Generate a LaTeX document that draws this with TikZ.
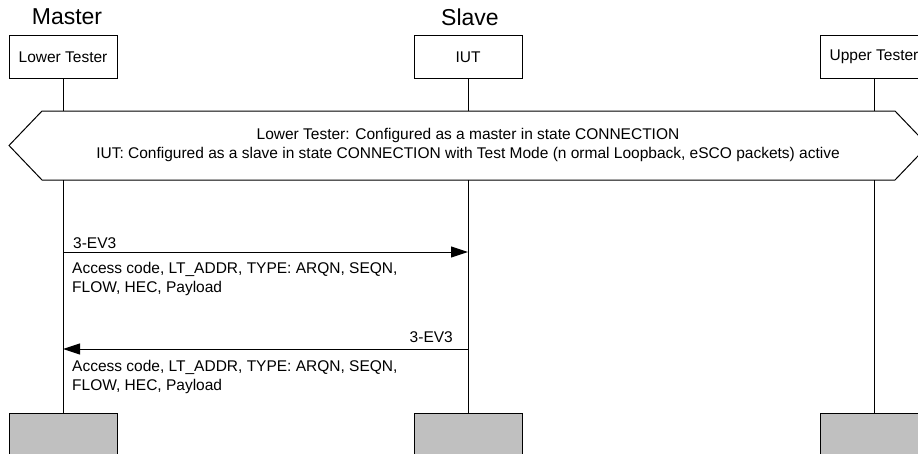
\documentclass[tikz,border=0pt]{standalone}
\usepackage{fontspec}
\setmainfont{Liberation Sans}
\usetikzlibrary{arrows.meta}
\definecolor{boxgray}{HTML}{C0C0C0}
\begin{document}
\begin{tikzpicture}[x=1pt,y=-1pt,
  every node/.style={font=\fontsize{15.5}{19}\selectfont, inner sep=0pt},
  inst/.style={draw, line width=1pt, minimum width=108pt, minimum height=43pt, anchor=north},
  endbox/.style={draw, line width=1pt, fill=boxgray, minimum width=108pt, minimum height=50pt, anchor=north},
  life/.style={line width=1pt},
  msg/.style={line width=1pt, -{Triangle[length=17pt,width=11pt]}},
  title/.style={font=\fontsize{23}{26}\selectfont},
  txt/.style={align=left, anchor=north west}
]
\useasboundingbox (0,0) rectangle (918,453);
\clip (0,0) rectangle (918,453);
% instance headers
\node[title] (tm) at (67,17) {Master};
\node[title] (ts) at (470,17) {Slave};
\node[inst] (lt) at (63,35) {Lower Tester};
\node[inst] (iut) at (468,35) {IUT};
\node[inst] (ut) at (874,35) {Upper Tester};
% condition hexagon
\draw[line width=1pt, fill=white] (9,145.5) -- (42,111) -- (895,111) -- (928,145.5) -- (895,180) -- (42,180) -- cycle;
\node[align=center] (cond) at (468,145) {Lower Tester: Configured as a master in state CONNECTION\\IUT: Configured as a slave in state CONNECTION with Test Mode (n ormal Loopback, eSCO packets) active};
\coordinate (htop) at (0,111);
\coordinate (hbot) at (0,180);
% end boxes
\node[endbox] (elt) at (63,413) {};
\node[endbox] (eiut) at (468,413) {};
\node[endbox] (eut) at (874,413) {};
% lifelines
\draw[life] (lt.south) -- (lt.south |- htop);
\draw[life] (iut.south) -- (iut.south |- htop);
\draw[life] (ut.south) -- (ut.south |- htop);
\draw[life] (lt.south |- hbot) -- (elt.north);
\draw[life] (iut.south |- hbot) -- (eiut.north);
\draw[life] (ut.south |- hbot) -- (eut.north);
% messages
\coordinate (m1a) at (63,252);
\coordinate (m1b) at (468,252);
\draw[msg] (m1a) -- (m1b);
\node[anchor=west] (l1) at (73,243) {3-EV3};
\node[txt] (d1) at (72,262) {Access code, LT\_ADDR, TYPE: ARQN, SEQN,\\FLOW, HEC, Payload};
\coordinate (m2a) at (468,349);
\coordinate (m2b) at (63,349);
\draw[msg] (m2a) -- (m2b);
\node[anchor=east] (l2) at (453,337) {3-EV3};
\node[txt] (d2) at (72,360) {Access code, LT\_ADDR, TYPE: ARQN, SEQN,\\FLOW, HEC, Payload};
\end{tikzpicture}
\end{document}
